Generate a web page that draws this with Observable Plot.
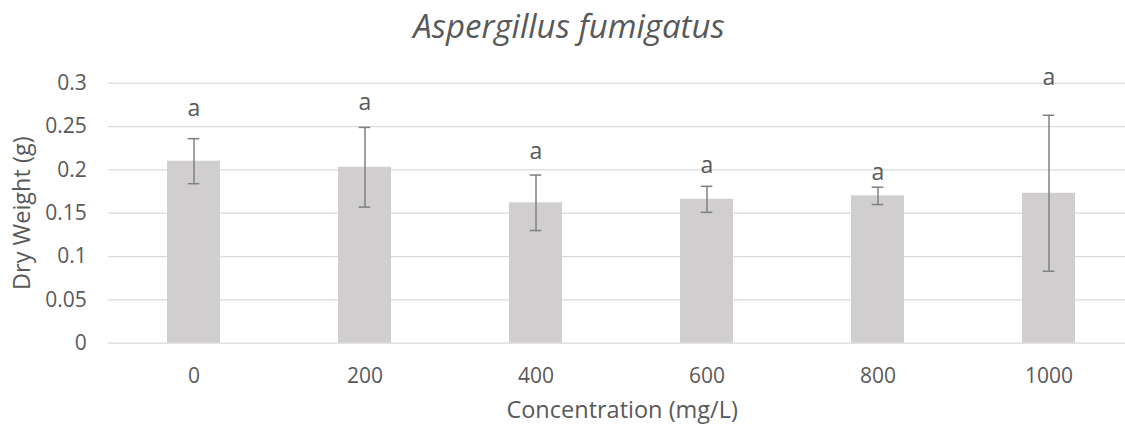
<!DOCTYPE html>
<html><head><meta charset="utf-8">
<script src="https://cdn.jsdelivr.net/npm/d3@7"></script>
<script src="https://cdn.jsdelivr.net/npm/@observablehq/plot@0.6"></script>
<style>
html,body{margin:0;padding:0;background:#fff;}
#wrap{position:relative;width:1125px;height:430px;overflow:hidden;font-family:"Open Sans",sans-serif;color:#595959;}
#title{position:absolute;left:0;top:8px;width:1138px;text-align:center;font-style:italic;font-size:33px;line-height:36px;}
#chart{position:absolute;left:0;top:55px;}
</style></head><body>
<div id="wrap"><div id="title">Aspergillus fumigatus</div><div id="chart"></div></div>
<script>
const concentrations = ["0", "200", "400", "600", "800", "1000"];
const dryWeight = [0.210, 0.203, 0.162, 0.166, 0.170, 0.173];
const stdDev = [0.026, 0.046, 0.032, 0.015, 0.010, 0.090];
const letters = ["a", "a", "a", "a", "a", "a"];
const letterHeight = [0.271, 0.278, 0.2215, 0.205, 0.197, 0.307];
const yTicks = [0, 0.05, 0.1, 0.15, 0.2, 0.25, 0.3];
const yTickLabels = ["0", "0.05", "0.1", "0.15", "0.2", "0.25", "0.3"];
const xTitle = "Concentration (mg/L)";
const yTitle = "Dry Weight (g)";

const data = concentrations.map((c, i) => ({
  c, m: dryWeight[i], lo: dryWeight[i] - stdDev[i], hi: dryWeight[i] + stdDev[i],
  letter: letters[i], ly: letterHeight[i]
}));

const textColor = "#595959";
const errColor = "#808080";

const chart = Plot.plot({
  width: 1125, height: 375,
  marginLeft: 108.3, marginRight: 0, marginTop: 27.7, marginBottom: 87.3,
  style: {fontFamily: '"Open Sans", sans-serif', fontSize: "21px", color: textColor, background: "#fff", overflow: "visible"},
  x: {domain: concentrations, range: [108.3, 1134.9], paddingInner: 0.688, paddingOuter: 0.344, label: null},
  y: {domain: [0, 0.3], label: null},
  marks: [
    Plot.gridY(yTicks, {stroke: "#d9d9d9", strokeOpacity: 1, strokeWidth: 1.3}),
    Plot.barY(data, {x: "c", y: "m", fill: "#d0cece"}),
    Plot.ruleX(data, {x: "c", y1: "lo", y2: "hi", stroke: errColor, strokeWidth: 1.5}),
    Plot.tickY(data, {x: "c", y: "lo", stroke: errColor, strokeWidth: 1.5, inset: 20.7}),
    Plot.tickY(data, {x: "c", y: "hi", stroke: errColor, strokeWidth: 1.5, inset: 20.7}),
    Plot.text(data, {x: "c", y: "ly", text: "letter", fill: textColor, fontSize: 23}),
    Plot.axisY(yTicks, {tickSize: 0, tickPadding: 22, fontSize: 21, tickFormat: d => yTickLabels[yTicks.indexOf(d)], label: null, fill: textColor}),
    Plot.axisX({tickSize: 0, tickPadding: 25, fontSize: 21, label: null, fill: textColor}),
    Plot.text([xTitle], {frameAnchor: "bottom", lineAnchor: "middle", textAnchor: "middle", dy: 67, dx: 5, fill: textColor, fontSize: 23.5}),
    Plot.text([yTitle], {frameAnchor: "left", lineAnchor: "middle", textAnchor: "middle", dx: -86, rotate: -90, fill: textColor, fontSize: 23.5})
  ]
});
document.getElementById("chart").appendChild(chart);
</script>
</body></html>
